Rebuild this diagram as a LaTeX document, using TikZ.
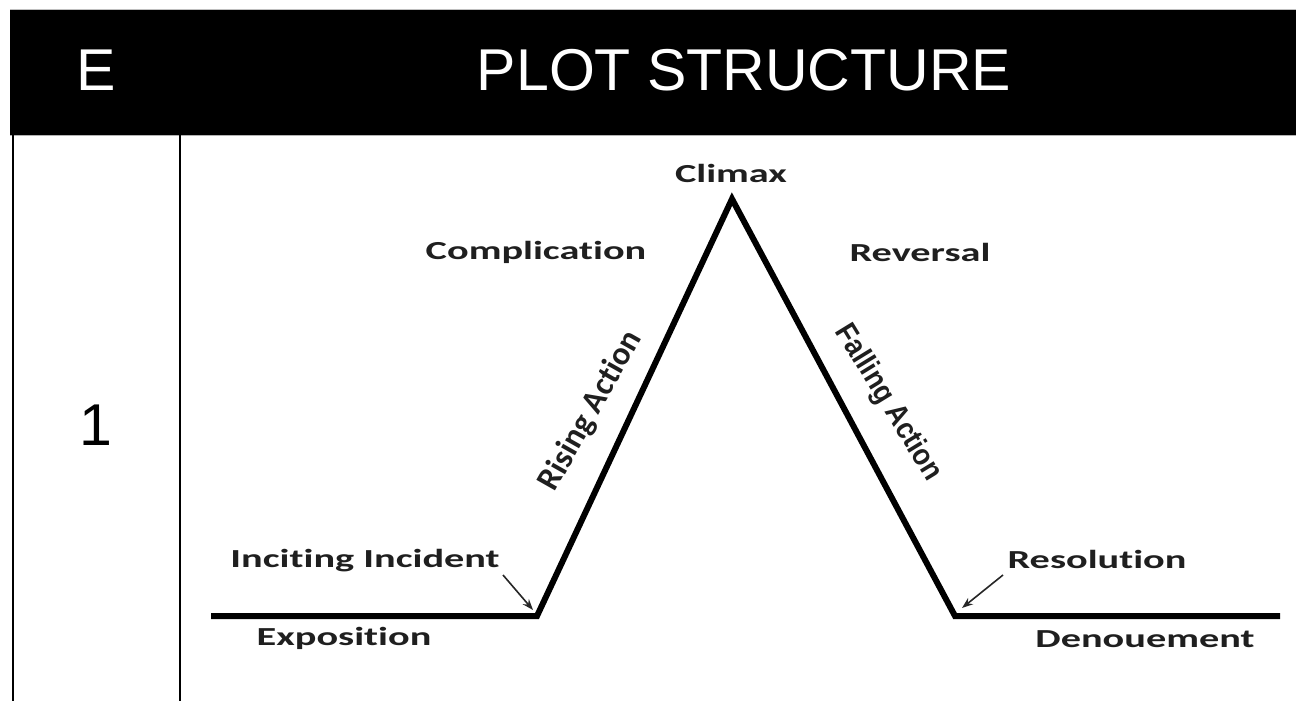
\documentclass[tikz,border=0pt]{standalone}
\usepackage{fontspec}
\usepackage{graphicx}
\usetikzlibrary{arrows.meta}
\newfontfamily\headfont{Liberation Sans}
\newfontfamily\labelfont{Carlito}[Ligatures=NoCommon]
% horizontally widened label text
\newcommand\widelabel[1]{\scalebox{1.55}[1]{#1}}
% slightly narrowed, taller text
\newcommand\tallLabel[1]{\scalebox{0.96}[1.08]{#1}}
\begin{document}
\begin{tikzpicture}[x=1pt,y=-1pt,
  head/.style={inner sep=0pt, anchor=base, text=white, font=\headfont\fontsize{59}{64}\selectfont},
  cell/.style={inner sep=0pt, anchor=base, text=black, font=\headfont\fontsize{59}{64}\selectfont},
  lbl/.style={inner sep=0pt, anchor=base, text=black!88, font=\labelfont\bfseries\fontsize{26}{30}\selectfont},
  rot/.style={inner sep=0pt, text=black!88, font=\labelfont\bfseries\fontsize{33}{36}\selectfont},
  rotsans/.style={inner sep=0pt, text=black!88, font=\headfont\bfseries\fontsize{28}{32}\selectfont},
  plotline/.style={line width=6pt, line join=miter, black},
  pointer/.style={line width=1.6pt, black!85, -{Stealth[length=11pt,width=8pt]}},
  rule/.style={line width=2pt, black}]
\useasboundingbox (0,0) rectangle (1296,701);
\fill[white] (0,0) rectangle (1296,701);

% table frame
\fill[black] (10,10) rectangle (1296,135);
\draw[black!25, line width=1pt] (10,9.5) -- (1296,9.5);
\draw[black!30, line width=1pt] (10,135.5) -- (1296,135.5);
\draw[rule] (12.5,135) -- (12.5,701);
\draw[rule] (180,135) -- (180,701);

% header row and row number
\node[head] (hE) at (96,91) {E};
\node[head] (hTitle) at (744,91) {PLOT STRUCTURE};
\node[cell] (rowOne) at (96,445) {1};

% plot line
\coordinate (start) at (211,616);
\coordinate (incite) at (537,616);
\coordinate (peak) at (732,199);
\coordinate (resolve) at (955,616);
\coordinate (finish) at (1280,616);
\draw[plotline] (start) -- (incite) -- (peak) -- (resolve) -- (finish);

% labels
\node[lbl] (climax) at (731,182) {\widelabel{Climax}};
\node[lbl] (complication) at (536,259) {\widelabel{Complication}};
\node[lbl] (reversal) at (920,261) {\widelabel{Reversal}};
\node[lbl] (inciting) at (365,567) {\widelabel{Inciting Incident}};
\node[lbl] (exposition) at (344,645) {\widelabel{Exposition}};
\node[lbl] (resolution) at (1097,568) {\widelabel{Resolution}};
\node[lbl] (denouement) at (1145,647) {\widelabel{Denouement}};
\node[rot, rotate=60.5] (rising) at (591,411) {Rising Action};
\node[rotsans, rotate=-58.5] (falling) at (888,403) {\tallLabel{Falling Action}};

% pointers to the turning points
\coordinate (incFrom) at (503,575);
\coordinate (incTo) at (533,610);
\coordinate (resFrom) at (1003,575);
\coordinate (resTo) at (962,608);
\draw[pointer] (incFrom) -- (incTo);
\draw[pointer] (resFrom) -- (resTo);
\end{tikzpicture}
\end{document}
